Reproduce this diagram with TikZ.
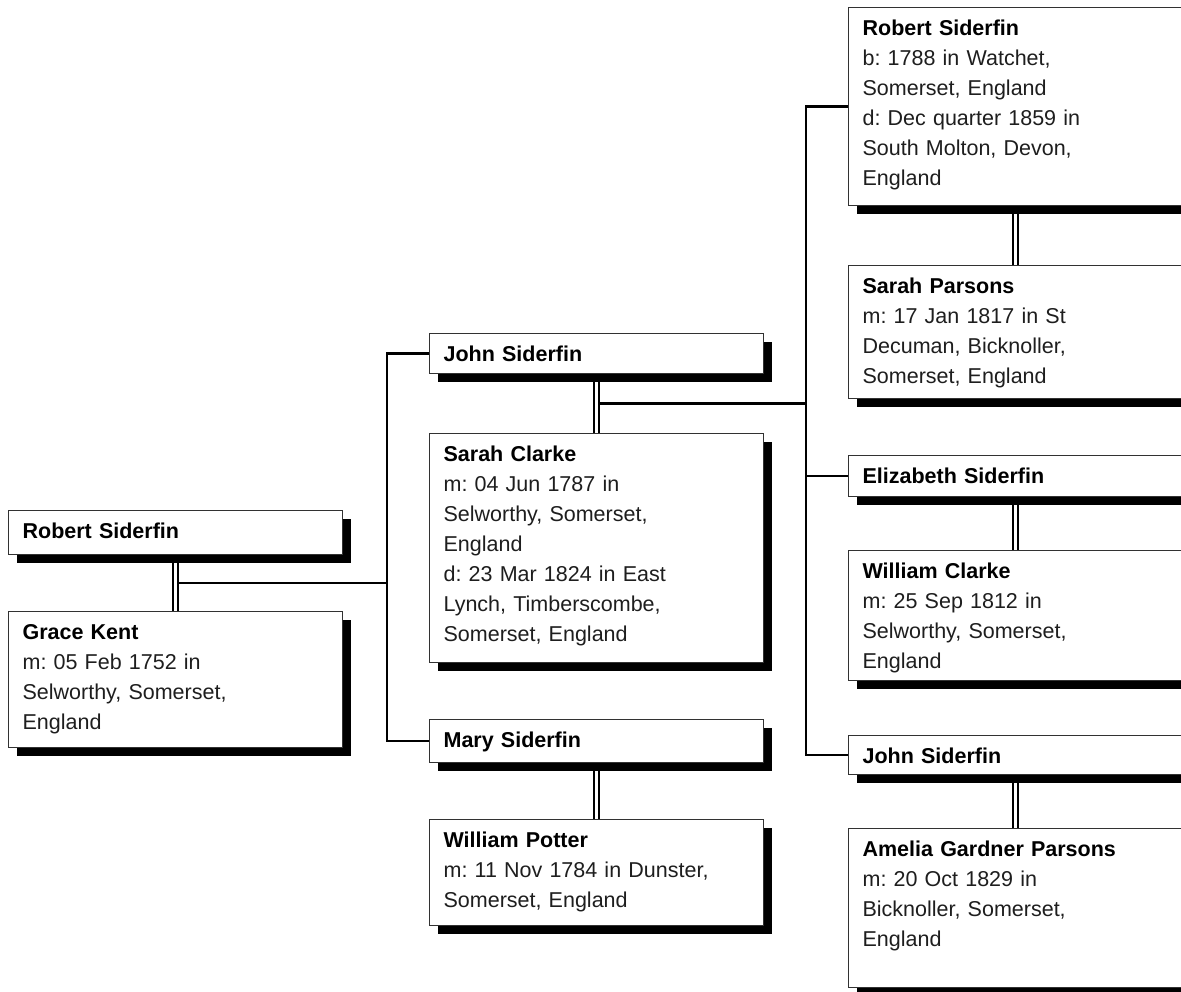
\documentclass[tikz,border=0pt]{standalone}
\usepackage{fontspec}
\setmainfont{Liberation Sans}
\usetikzlibrary{calc,shadows}
\definecolor{boxLine}{RGB}{50,50,50}
\definecolor{infoText}{RGB}{30,30,30}
\tikzset{person/.style={draw=boxLine, line width=1.2pt, fill=white, anchor=north west, align=left, text width=306pt, inner xsep=14pt, inner ysep=0pt, text height=27.5pt, text depth=#1, font=\fontsize{21.5}{30}\selectfont, text=infoText, drop shadow={fill=black, opacity=1, shadow xshift=8pt, shadow yshift=-8pt}}}
\tikzset{couple/.style={double, double distance=3pt, line width=1.8pt}}
\tikzstyle{link} = [line width=2.5pt]
\newcommand{\pname}[1]{\textbf{\color{black}#1}}

\begin{document}
\frenchspacing
\begin{tikzpicture}[x=1pt, y=-1pt]
	\pgfdeclarelayer{background}
	\pgfsetlayers{background,main}
	\useasboundingbox (0,0) rectangle (1181,992);

	% Nodes
	\node (rob1) [person=16.5pt] at (8,510) {\pname{Robert Siderfin}};
	\node (grace) [person=108.5pt] at (8,611) {\pname{Grace Kent}\\ m: 05 Feb 1752 in\\ Selworthy, Somerset,\\ England};

	\node (john1) [person=12.5pt] at (429,333) {\pname{John Siderfin}};
	\node (sarahc) [person=201.5pt] at (429,433) {\pname{Sarah Clarke}\\ m: 04 Jun 1787 in\\ Selworthy, Somerset,\\ England\\ d: 23 Mar 1824 in East\\ Lynch, Timberscombe,\\ Somerset, England};
	\node (mary) [person=15.5pt] at (429,719) {\pname{Mary Siderfin}};
	\node (potter) [person=78.5pt] at (429,819) {\pname{William Potter}\\ m: 11 Nov 1784 in Dunster,\\ Somerset, England};

	\node (rob2) [person=170.5pt] at (848,7) {\pname{Robert Siderfin}\\ b: 1788 in Watchet,\\ Somerset, England\\ d: Dec quarter 1859 in\\ South Molton, Devon,\\ England};
	\node (parsons) [person=105.5pt] at (848,265) {\pname{Sarah Parsons}\\ m: 17 Jan 1817 in St\\ Decuman, Bicknoller,\\ Somerset, England};
	\node (eliz) [person=13.5pt] at (848,455) {\pname{Elizabeth Siderfin}};
	\node (clarke) [person=102.5pt] at (848,550) {\pname{William Clarke}\\ m: 25 Sep 1812 in\\ Selworthy, Somerset,\\ England};
	\node (john2) [person=11.5pt] at (848,735) {\pname{John Siderfin}};
	\node (amelia) [person=131.5pt] at (848,828) {\pname{Amelia Gardner Parsons}\\ m: 20 Oct 1829 in\\ Bicknoller, Somerset,\\ England};

	\coordinate (c1) at ($(rob1.south)!.5!(grace.north)$);
	\coordinate (c2) at ($(john1.south)!.5!(sarahc.north)$);
	\coordinate (bus1) at ($(john1.west)+(-42,0)$);
	\coordinate (bus2) at ($(rob2.west)+(-42,0)$);

	% Connectors
	\begin{pgfonlayer}{background}
		\fill[white] (0,0) rectangle (1181,992);
		\begin{scope}[link]
		\draw (c1) -- (c1 -| bus1);
		\draw (john1.west) -- (bus1) |- (mary.west);
		\draw (c2) -- (c2 -| bus2);
		\draw (rob2.west) -- (bus2) |- (john2.west);
		\draw (eliz.west) -- (eliz.west -| bus2);
		\end{scope}

		\draw [couple] (rob1.south) -- (grace.north);
		\draw [couple] (john1.south) -- (sarahc.north);
		\draw [couple] (mary.south) -- (potter.north);
		\draw [couple] (rob2.south) -- (parsons.north);
		\draw [couple] (eliz.south) -- (clarke.north);
		\draw [couple] (john2.south) -- (amelia.north);
	\end{pgfonlayer}

\end{tikzpicture}
\end{document}
